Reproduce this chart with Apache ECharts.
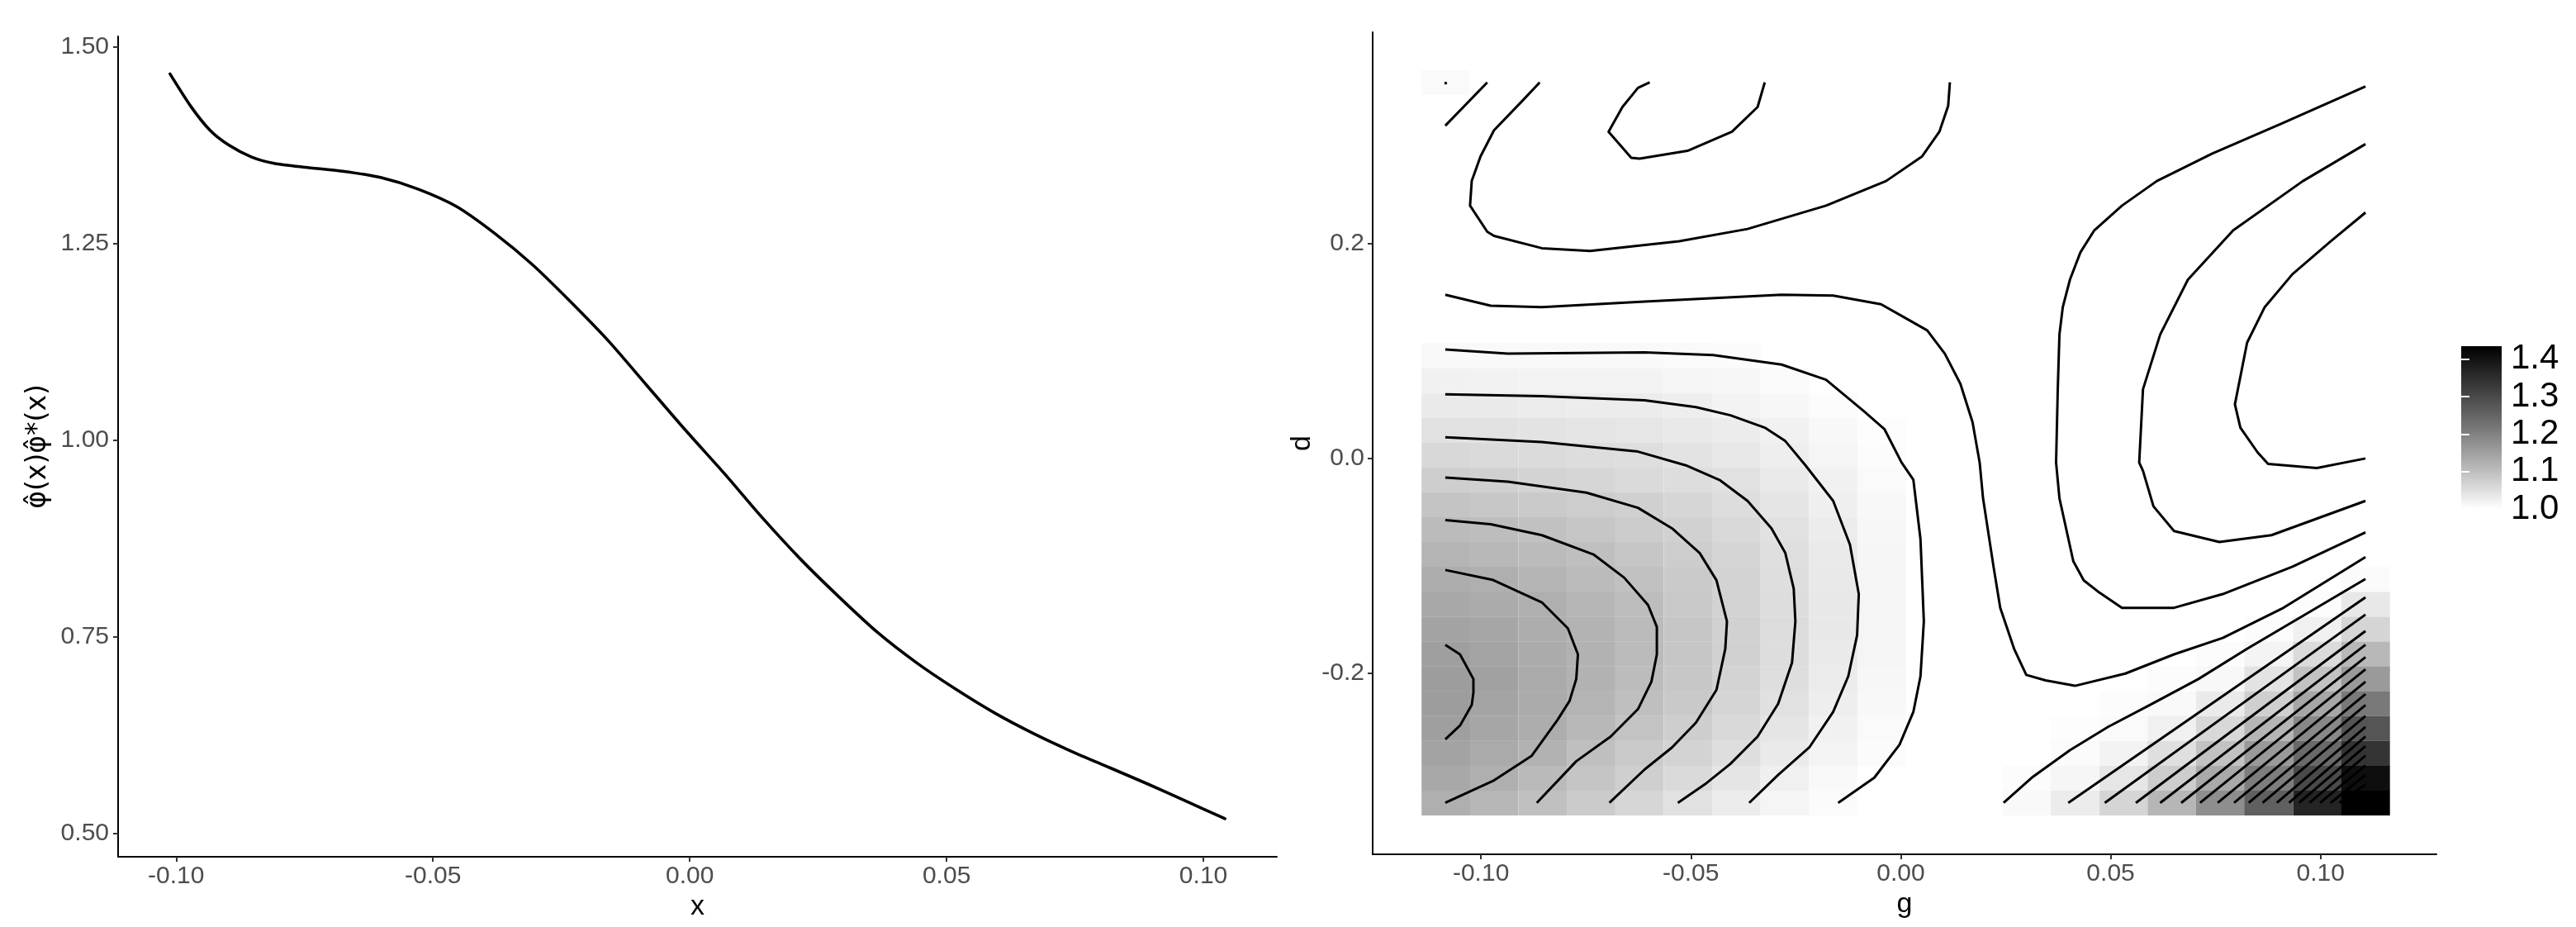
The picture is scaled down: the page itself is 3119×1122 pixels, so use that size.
<!DOCTYPE html>
<html><head><meta charset="utf-8">
<script src="https://cdn.jsdelivr.net/npm/echarts@6/dist/echarts.min.js"></script>
<style>html,body{margin:0;padding:0;background:#fff}#c{width:3119px;height:1122px}</style>
</head><body><div id="c"></div>
<script>
const N = null;
// ---------- Left panel: phi-hat(x) phi-hat*(x) ----------
const lineX = [-0.1012,-0.0971,-0.0934,-0.0897,-0.0853,-0.0809,-0.0749,-0.0676,-0.0602,-0.0528,-0.0454,-0.0380,-0.0306,-0.0232,-0.0158,-0.0084,-0.0010,0.0067,0.0142,0.0217,0.0292,0.0367,0.0442,0.0517,0.0592,0.0667,0.0742,0.0817,0.0892,0.0967,0.1042];
const lineY = [1.4657,1.424,1.394,1.375,1.360,1.352,1.347,1.342,1.334,1.319,1.297,1.263,1.223,1.176,1.126,1.070,1.014,0.958,0.901,0.848,0.800,0.755,0.717,0.684,0.654,0.628,0.605,0.584,0.563,0.541,0.519];
const xTicksLeft = [-0.10,-0.05,0.00,0.05,0.10];
const yTicksLeft = [0.50,0.75,1.00,1.25,1.50];

// ---------- Right panel: tiles + contours over (g, d) ----------
const gTicks = [-0.10,-0.05,0.00,0.05,0.10];
const dTicks = [-0.2,0.0,0.2];
const legendTicks = [1.0,1.1,1.2,1.3,1.4];
const fillRange = [1.0, 1.435];
const fillColors = ['#ffffff','#b9b9b9','#777777','#3b3b3b','#000000'];

const gCenters = [-0.1084,-0.0969,-0.0853,-0.0738,-0.0623,-0.0507,-0.0392,-0.0277,-0.0161,-0.0046,0.0069,0.0185,0.0300,0.0415,0.0531,0.0646,0.0761,0.0876,0.0992,0.1107];
const dCenters = [-0.3206,-0.2975,-0.2744,-0.2513,-0.2281,-0.2050,-0.1819,-0.1588,-0.1357,-0.1126,-0.0894,-0.0663,-0.0432,-0.0201,0.0030,0.0261,0.0492,0.0723,0.0955,0.1186,0.1417,0.1648,0.1879,0.2110,0.2342,0.2573,0.2804,0.3035,0.3266,0.3498];

// tile values, one row per d (bottom to top), one entry per g; N = blank
const heatRows = [
[1.125,1.112,1.098,1.081,1.064,1.046,1.030,1.015,1.006,N,N,N,1.009,1.030,1.065,1.114,1.179,1.260,1.368,1.435],
[1.136,1.126,1.107,1.090,1.074,1.057,1.040,1.023,1.010,N,N,N,1.004,1.014,1.039,1.078,1.135,1.208,1.299,1.410],
[1.145,1.134,1.121,1.099,1.083,1.068,1.051,1.032,1.017,1.006,N,N,N,1.006,1.019,1.049,1.095,1.161,1.242,1.340],
[1.151,1.140,1.128,1.111,1.093,1.076,1.059,1.041,1.022,1.008,N,N,N,1.003,1.008,1.023,1.061,1.116,1.189,1.280],
[1.155,1.144,1.132,1.117,1.100,1.084,1.066,1.047,1.027,1.011,N,N,N,N,1.004,1.010,1.032,1.075,1.140,1.215],
[1.155,1.148,1.133,1.120,1.104,1.087,1.069,1.051,1.031,1.013,N,N,N,N,N,1.004,1.011,1.043,1.094,1.160],
[1.151,1.143,1.132,1.121,1.106,1.089,1.071,1.053,1.033,1.015,N,N,N,N,N,N,1.004,1.017,1.056,1.110],
[1.145,1.140,1.129,1.119,1.105,1.089,1.071,1.054,1.035,1.016,N,N,N,N,N,N,N,1.004,1.023,1.065],
[1.136,1.131,1.125,1.114,1.103,1.086,1.070,1.053,1.035,1.016,N,N,N,N,N,N,N,N,1.005,1.035],
[1.128,1.125,1.115,1.106,1.096,1.083,1.068,1.052,1.034,1.016,N,N,N,N,N,N,N,N,N,1.006],
[1.117,1.111,1.106,1.100,1.089,1.078,1.065,1.050,1.032,1.014,N,N,N,N,N,N,N,N,N,N],
[1.105,1.102,1.096,1.088,1.080,1.071,1.059,1.046,1.029,1.013,N,N,N,N,N,N,N,N,N,N],
[1.091,1.087,1.083,1.078,1.073,1.063,1.053,1.040,1.025,1.011,N,N,N,N,N,N,N,N,N,N],
[1.076,1.073,1.068,1.063,1.058,1.053,1.046,1.033,1.021,1.008,N,N,N,N,N,N,N,N,N,N],
[1.061,1.058,1.056,1.053,1.051,1.043,1.035,1.027,1.016,1.005,N,N,N,N,N,N,N,N,N,N],
[1.046,1.045,1.043,1.041,1.039,1.034,1.029,1.022,1.011,1.003,N,N,N,N,N,N,N,N,N,N],
[1.033,1.032,1.031,1.030,1.029,1.026,1.019,1.012,1.005,N,N,N,N,N,N,N,N,N,N,N],
[1.021,1.020,1.019,1.019,1.018,1.016,1.013,1.007,N,N,N,N,N,N,N,N,N,N,N,N],
[1.010,1.010,1.009,1.009,1.009,1.008,1.006,N,N,N,N,N,N,N,N,N,N,N,N,N],
[N,N,N,N,N,N,N,N,N,N,N,N,N,N,N,N,N,N,N,N],
[N,N,N,N,N,N,N,N,N,N,N,N,N,N,N,N,N,N,N,N],
[N,N,N,N,N,N,N,N,N,N,N,N,N,N,N,N,N,N,N,N],
[N,N,N,N,N,N,N,N,N,N,N,N,N,N,N,N,N,N,N,N],
[N,N,N,N,N,N,N,N,N,N,N,N,N,N,N,N,N,N,N,N],
[N,N,N,N,N,N,N,N,N,N,N,N,N,N,N,N,N,N,N,N],
[N,N,N,N,N,N,N,N,N,N,N,N,N,N,N,N,N,N,N,N],
[N,N,N,N,N,N,N,N,N,N,N,N,N,N,N,N,N,N,N,N],
[N,N,N,N,N,N,N,N,N,N,N,N,N,N,N,N,N,N,N,N],
[N,N,N,N,N,N,N,N,N,N,N,N,N,N,N,N,N,N,N,N],
[1.008,N,N,N,N,N,N,N,N,N,N,N,N,N,N,N,N,N,N,N]
];

// contour polylines [g, d] (binwidth 0.025)
const c0900 = [[0.1107,0.2287],[0.1024,0.2019],[0.0933,0.1713],[0.0867,0.1407],[0.0825,0.1076],[0.0796,0.0502],[0.0809,0.0285],[0.0850,0.0055],[0.0875,-0.0053],[0.0991,-0.0091],[0.1107,-0.0002]];
const c0925top = [[-0.0598,0.3498],[-0.0626,0.3447],[-0.0663,0.3269],[-0.0696,0.3039],[-0.0642,0.2797],[-0.0622,0.2789],[-0.0508,0.2861],[-0.0402,0.3039],[-0.0341,0.3269],[-0.0324,0.3498]];
const c0925right = [[0.1107,0.2924],[0.0958,0.2580],[0.0792,0.2121],[0.0684,0.1662],[0.0618,0.1152],[0.0577,0.0642],[0.0568,-0.0041],[0.0577,-0.0117],[0.0602,-0.0448],[0.0651,-0.0678],[0.0759,-0.0780],[0.0883,-0.0716],[0.1107,-0.0397]];
const c0950top = [[-0.0860,0.3498],[-0.0903,0.3320],[-0.0969,0.3052],[-0.1001,0.2810],[-0.1022,0.2580],[-0.1026,0.2351],[-0.0985,0.2108],[-0.0969,0.2070],[-0.0855,0.1955],[-0.0740,0.1930],[-0.0528,0.2019],[-0.0365,0.2134],[-0.0178,0.2351],[-0.0035,0.2580],[0.0051,0.2810],[0.0092,0.3039],[0.0113,0.3281],[0.0117,0.3498]];
const c0950right = [[0.1107,0.3460],[0.0908,0.3116],[0.0742,0.2835],[0.0610,0.2580],[0.0527,0.2351],[0.0461,0.2121],[0.0428,0.1917],[0.0403,0.1662],[0.0386,0.1407],[0.0378,0.1152],[0.0374,0.0642],[0.0370,-0.0041],[0.0378,-0.0372],[0.0411,-0.0958],[0.0436,-0.1137],[0.0469,-0.1238],[0.0527,-0.1392],[0.0651,-0.1392],[0.0767,-0.1264],[0.0933,-0.1009],[0.1107,-0.0690]];
const c0975main = [[-0.1085,0.1522],[-0.0977,0.1420],[-0.0855,0.1407],[-0.0610,0.1458],[-0.0284,0.1522],[-0.0161,0.1514],[-0.0047,0.1433],[0.0017,0.1292],[0.0063,0.1190],[0.0105,0.0973],[0.0142,0.0693],[0.0171,0.0336],[0.0188,-0.0041],[0.0196,-0.0372],[0.0221,-0.1009],[0.0237,-0.1392],[0.0270,-0.1774],[0.0299,-0.2016],[0.0345,-0.2067],[0.0415,-0.2118],[0.0535,-0.2004],[0.0651,-0.1825],[0.0767,-0.1672],[0.0908,-0.1400],[0.1107,-0.0920]];
const c0975corner = [[-0.1085,0.3095],[-0.0985,0.3498]];
const c1000dot = [[-0.1087,0.3488],[-0.1081,0.3494]];
const c1000left = [[-0.1085,0.1012],[-0.0936,0.0974],[-0.0610,0.0986],[-0.0447,0.0961],[-0.0284,0.0872],[-0.0178,0.0731],[-0.0088,0.0438],[-0.0039,0.0272],[0.0002,-0.0040],[0.0030,-0.0200],[0.0047,-0.0754],[0.0055,-0.1519],[0.0047,-0.2029],[0.0030,-0.2361],[-0.0003,-0.2666],[-0.0063,-0.2973],[-0.0149,-0.3207]];
const c1000right = [[0.0245,-0.3207],[0.0312,-0.2973],[0.0403,-0.2717],[0.0494,-0.2500],[0.0593,-0.2297],[0.0709,-0.2055],[0.0825,-0.1774],[0.1107,-0.1124]];
const c1025 = [[-0.1085,0.0596],[-0.0855,0.0578],[-0.0610,0.0540],[-0.0488,0.0476],[-0.0406,0.0400],[-0.0324,0.0285],[-0.0275,0.0160],[-0.0227,-0.0066],[-0.0161,-0.0397],[-0.0121,-0.0805],[-0.0100,-0.1264],[-0.0104,-0.1647],[-0.0125,-0.2029],[-0.0161,-0.2361],[-0.0218,-0.2692],[-0.0292,-0.2947],[-0.0361,-0.3207]];
const c1050 = [[-0.1085,0.0195],[-0.0855,0.0151],[-0.0626,0.0062],[-0.0512,-0.0066],[-0.0430,-0.0206],[-0.0365,-0.0397],[-0.0308,-0.0652],[-0.0275,-0.0882],[-0.0255,-0.1213],[-0.0251,-0.1519],[-0.0259,-0.1902],[-0.0292,-0.2284],[-0.0341,-0.2590],[-0.0406,-0.2845],[-0.0463,-0.3024],[-0.0531,-0.3207]];
const c1075 = [[-0.1085,-0.0180],[-0.0936,-0.0218],[-0.0749,-0.0320],[-0.0626,-0.0461],[-0.0545,-0.0652],[-0.0479,-0.0882],[-0.0439,-0.1136],[-0.0414,-0.1519],[-0.0418,-0.1774],[-0.0439,-0.2156],[-0.0488,-0.2462],[-0.0545,-0.2692],[-0.0610,-0.2896],[-0.0694,-0.3207]];
const c1100 = [[-0.1085,-0.0576],[-0.0977,-0.0614],[-0.0855,-0.0716],[-0.0732,-0.0895],[-0.0659,-0.1111],[-0.0602,-0.1366],[-0.0581,-0.1570],[-0.0581,-0.1825],[-0.0594,-0.2080],[-0.0626,-0.2335],[-0.0691,-0.2590],[-0.0773,-0.2820],[-0.0867,-0.3207]];
const c1125 = [[-0.1085,-0.1040],[-0.0973,-0.1131],[-0.0855,-0.1341],[-0.0793,-0.1583],[-0.0769,-0.1825],[-0.0773,-0.2055],[-0.0789,-0.2259],[-0.0818,-0.2437],[-0.0879,-0.2769],[-0.0969,-0.2998],[-0.1085,-0.3207]];
const c1150 = [[-0.1085,-0.1736],[-0.1050,-0.1825],[-0.1018,-0.2055],[-0.1018,-0.2182],[-0.1022,-0.2297],[-0.1050,-0.2488],[-0.1085,-0.2616]];
// dense corner contours (levels 1.025 ... 1.425): bottom-edge g and right-edge d
const denseBottomG = [0.0399,0.0486,0.0560,0.0618,0.0668,0.0713,0.0755,0.0794,0.0829,0.0862,0.0896,0.0925,0.0949,0.0974,0.0999,0.1024,0.1045];
const denseRightD = [-0.1295,-0.1455,-0.1608,-0.1736,-0.1851,-0.1965,-0.2080,-0.2195,-0.2297,-0.2399,-0.2501,-0.2590,-0.2679,-0.2768,-0.2858,-0.2947,-0.3036];

// ---------- build ----------
const gEdgeRight = gCenters[gCenters.length - 1];
const dEdgeBottom = dCenters[0] - 0.0001;
const denseLines = denseBottomG.map((g, i) => [[g, dEdgeBottom], [gEdgeRight, denseRightD[i]]]);
const contourLines = [c0900, c0925top, c0925right, c0950top, c0950right, c0975main, c0975corner, c1000dot,
  c1000left, c1000right, c1025, c1050, c1075, c1100, c1125, c1150].concat(denseLines);

const tileData = [];
heatRows.forEach((row, j) => row.forEach((v, i) => { if (v !== null) tileData.push([gCenters[i], dCenters[j], v]); }));
const dg = gCenters[1] - gCenters[0];
const dd = dCenters[1] - dCenters[0];

const FONT = 'Liberation Sans, Arial, sans-serif';
const tickLabel = { color: '#4d4d4d', fontSize: 30, fontFamily: FONT };
const axisLineStyle = { show: true, onZero: false, lineStyle: { color: '#000', width: 2 } };
const tickStyle = (vals) => ({ show: true, customValues: vals, length: 6, lineStyle: { color: '#333', width: 2 } });

const chart = echarts.init(document.getElementById('c'), null, { renderer: 'canvas' });
const series = [];
series.push({
  type: 'line', xAxisIndex: 0, yAxisIndex: 0,
  data: lineX.map((x, i) => [x, lineY[i]]),
  showSymbol: false, symbol: 'none', smooth: 0.25,
  lineStyle: { color: '#000', width: 3.6, join: 'round', cap: 'round' }, silent: true
});
series.push({
  type: 'custom', xAxisIndex: 1, yAxisIndex: 1, data: tileData, silent: true, z: 1,
  renderItem: function (params, api) {
    const g = api.value(0), d = api.value(1);
    const p0 = api.coord([g - dg / 2, d + dd / 2]);
    const p1 = api.coord([g + dg / 2, d - dd / 2]);
    return { type: 'rect', shape: { x: p0[0], y: p0[1], width: p1[0] - p0[0] + 0.4, height: p1[1] - p0[1] + 0.4 },
      style: { fill: api.visual('color') } };
  }
});
const heatIndex = 1;
contourLines.forEach(poly => series.push({
  type: 'line', xAxisIndex: 1, yAxisIndex: 1, data: poly, showSymbol: false, symbol: 'none',
  lineStyle: { color: '#000', width: 3, join: 'round' }, silent: true, z: 3, clip: true
}));
series.push({
  type: 'custom', xAxisIndex: 2, yAxisIndex: 2, data: [[0, fillRange[0], 1, fillRange[1]]], silent: true, z: 1,
  renderItem: function (params, api) {
    const p0 = api.coord([api.value(0), api.value(3)]);
    const p1 = api.coord([api.value(2), api.value(1)]);
    const stops = fillColors.map((c, i) => ({ offset: i / (fillColors.length - 1), color: c }));
    return { type: 'rect', shape: { x: p0[0], y: p0[1], width: p1[0] - p0[0], height: p1[1] - p0[1] },
      style: { fill: new echarts.graphic.LinearGradient(0, 1, 0, 0, stops) } };
  }
});

chart.setOption({
  animation: false,
  backgroundColor: '#fff',
  grid: [
    { left: 143, top: 44, width: 1403, height: 993 },
    { left: 1662, top: 39, width: 1288, height: 995 },
    { left: 2980, top: 419, width: 49, height: 197 }
  ],
  xAxis: [
    { gridIndex: 0, type: 'value', min: -0.1113, max: 0.1143, axisLine: axisLineStyle, splitLine: { show: false },
      axisTick: tickStyle(xTicksLeft),
      axisLabel: Object.assign({ customValues: xTicksLeft, margin: 9, formatter: v => v.toFixed(2) }, tickLabel),
      name: 'x', nameLocation: 'middle', nameGap: 29, nameTextStyle: { color: '#000', fontSize: 34, fontFamily: FONT } },
    { gridIndex: 1, type: 'value', min: -0.1258, max: 0.1276, axisLine: axisLineStyle, splitLine: { show: false },
      axisTick: tickStyle(gTicks),
      axisLabel: Object.assign({ customValues: gTicks, margin: 9, formatter: v => v.toFixed(2) }, tickLabel),
      name: 'g', nameLocation: 'middle', nameGap: 30, nameTextStyle: { color: '#000', fontSize: 34, fontFamily: FONT } },
    { gridIndex: 2, type: 'value', min: 0, max: 1, show: false }
  ],
  yAxis: [
    { gridIndex: 0, type: 'value', min: 0.4706, max: 1.5134, axisLine: axisLineStyle, splitLine: { show: false },
      axisTick: tickStyle(yTicksLeft),
      axisLabel: Object.assign({ customValues: yTicksLeft, margin: 11, formatter: v => v.toFixed(2) }, tickLabel),
      name: 'φ\u0302(x)φ\u0302*(x)', nameLocation: 'middle', nameGap: 80,
      nameTextStyle: { color: '#000', fontSize: 33, fontFamily: 'DejaVu Sans, Liberation Sans, sans-serif' } },
    { gridIndex: 1, type: 'value', min: -0.3686, max: 0.3965, axisLine: axisLineStyle, splitLine: { show: false },
      axisTick: tickStyle(dTicks),
      axisLabel: Object.assign({ customValues: dTicks, margin: 10, formatter: v => v.toFixed(1) }, tickLabel),
      name: 'd', nameLocation: 'middle', nameGap: 68, nameTextStyle: { color: '#000', fontSize: 34, fontFamily: FONT } },
    { gridIndex: 2, type: 'value', min: fillRange[0], max: fillRange[1], position: 'right', z: 10,
      axisLine: { show: false }, splitLine: { show: false },
      axisTick: { show: true, inside: true, length: 10, customValues: legendTicks, lineStyle: { color: '#fff', width: 2 } },
      axisLabel: { customValues: legendTicks, margin: 11, color: '#000', fontSize: 42, fontFamily: FONT, formatter: v => v.toFixed(1) } },
    { gridIndex: 2, type: 'value', min: fillRange[0], max: fillRange[1], position: 'left', z: 10,
      axisLine: { show: false }, splitLine: { show: false },
      axisTick: { show: true, inside: true, length: 10, customValues: legendTicks, lineStyle: { color: '#fff', width: 2 } },
      axisLabel: { show: false } }
  ],
  visualMap: { type: 'continuous', show: false, min: fillRange[0], max: fillRange[1], dimension: 2,
    seriesIndex: heatIndex, inRange: { color: fillColors } },
  series: series
});
</script></body></html>
